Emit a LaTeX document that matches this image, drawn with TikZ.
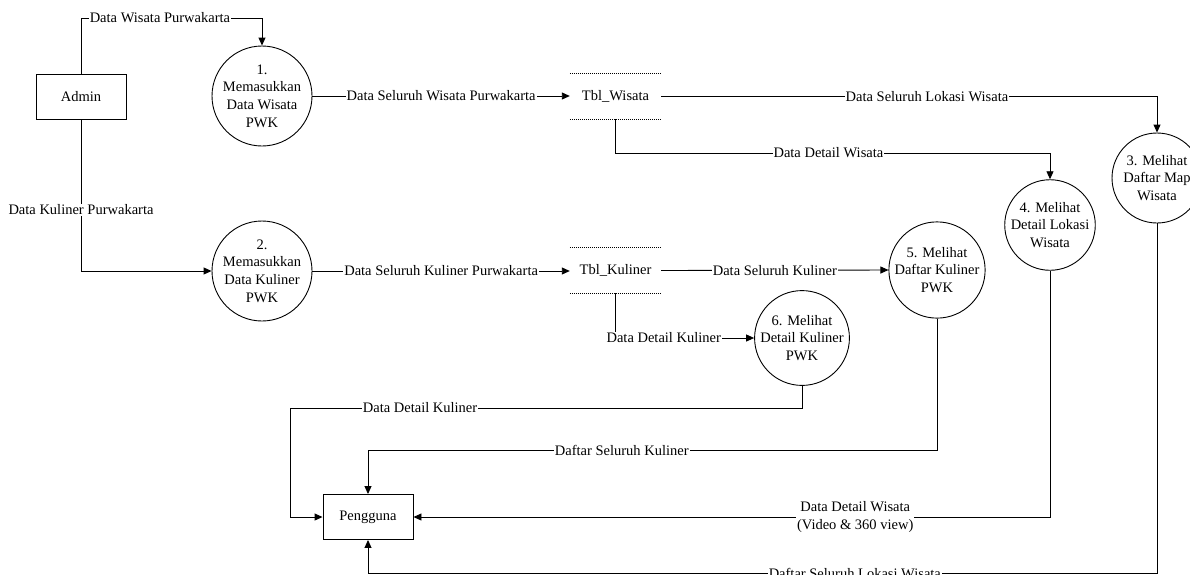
\documentclass[tikz,border=0pt]{standalone}
\usepackage{fontspec}
\setmainfont{Liberation Serif}
\usetikzlibrary{arrows.meta}
\begin{document}
\begin{tikzpicture}[x=1pt,y=-1pt,
 every node/.style={font=\fontsize{14.5}{17.6}\selectfont},
 proc/.style={circle,draw,line width=0.9pt,minimum size=90pt,inner sep=0pt,align=center},
 ent/.style={rectangle,draw,line width=0.9pt,minimum width=90pt,minimum height=45pt},
 store/.style={minimum width=91pt,minimum height=45pt,inner sep=0pt},
 storeline/.style={line width=0.8pt,dash pattern=on 1pt off 1pt},
 flow/.style={draw,line width=0.9pt,-{Triangle[length=8pt,width=7pt]}},
 lbl/.style={fill=white,inner sep=1pt,align=center}]
\useasboundingbox (0,0) rectangle (1190,574);
\clip (0,0) rectangle (1190,574);

% entities
\node[ent] (adm) at (81,96.5) {Admin};
\node[ent] (peng) at (368,517) {Pengguna};

% processes
\node[proc] (c1) at (262,96) {1.\\Memasukkan\\Data Wisata\\PWK};
\node[proc] (c2) at (262,271) {2.\\Memasukkan\\Data Kuliner\\PWK};
\node[proc] (c3) at (1157,178) {3. Melihat\\Daftar Map\\Wisata};
\node[proc] (c4) at (1050,225) {4. Melihat\\Detail Lokasi\\Wisata};
\node[proc] (c5) at (937,270) {5. Melihat\\Daftar Kuliner\\PWK};
\node[proc] (c6) at (802,338) {6. Melihat\\Detail Kuliner\\PWK};

% data stores
\node[store] (ds1) at (615.5,96.5) {Tbl\_Wisata};
\node[store] (ds2) at (615.5,270.5) {Tbl\_Kuliner};
\draw[storeline] (ds1.north west) -- (ds1.north east);
\draw[storeline] (ds1.south west) -- (ds1.south east);
\draw[storeline] (ds2.north west) -- (ds2.north east);
\draw[storeline] (ds2.south west) -- (ds2.south east);

% flows
\draw[flow] (adm.north) -- (adm.north |- 0,18) -- node[lbl,pos=0.436]{Data Wisata Purwakarta} (c1.north |- 0,18) -- (c1.north);
\draw[flow] (adm.south) -- node[lbl,pos=0.596]{Data Kuliner Purwakarta} (adm.south |- c2.west) -- (c2.west);
\draw[flow] (c1.east) -- node[lbl]{Data Seluruh Wisata Purwakarta} (c1.east -| ds1.west);
\draw[flow] (c2.east) -- node[lbl]{Data Seluruh Kuliner Purwakarta} (c2.east -| ds2.west);
\draw[flow] (ds1.east) -- node[lbl,pos=0.536]{Data Seluruh Lokasi Wisata} (ds1.east -| c3.north) -- (c3.north);
\draw[flow] (ds1.south) -- (ds1.south |- 0,153) -- node[lbl,pos=0.49]{Data Detail Wisata} (c4.north |- 0,153) -- (c4.north);
\draw[flow] (ds2.east) -- node[lbl]{Data Seluruh Kuliner} (c5.west);
\draw[flow] (ds2.south) |- node[lbl,pos=0.674]{Data Detail Kuliner} (c6.west);
\draw[flow] (c6.south) -- (c6.south |- 0,408) -- node[lbl,pos=0.746]{Data Detail Kuliner} (290,408) -- (290,0 |- peng.west) -- (peng.west);
\draw[flow] (c5.south) -- (c5.south |- 0,450) -- node[lbl,pos=0.554]{Daftar Seluruh Kuliner} (peng.north |- 0,450) -- (peng.north);
\draw[flow] (c4.south) -- (c4.south |- peng.east) -- node[lbl,pos=0.306]{Data Detail Wisata\\(Video \& 360 view)} (peng.east);
\draw[flow] (c3.south) -- (c3.south |- 0,573) -- node[lbl,pos=0.383]{Daftar Seluruh Lokasi Wisata} (peng.south |- 0,573) -- (peng.south);
\end{tikzpicture}
\end{document}
